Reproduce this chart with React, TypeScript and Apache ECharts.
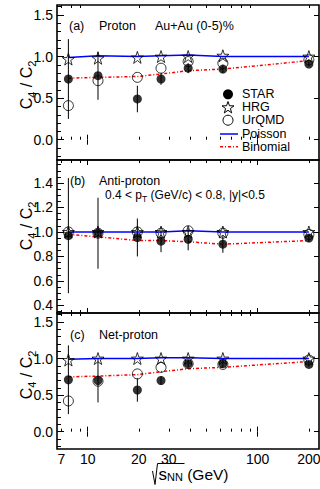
import React, { useEffect, useRef } from 'react';
import * as echarts from 'echarts';

// ---------------- data ----------------
const energies = [7.7, 11.5, 19.6, 27, 39, 62.4, 200];

// (a) Proton
const protonStar = [0.73, 0.77, 0.49, 0.73, 0.86, 0.85, 0.91];
const protonStarErr = [0.48, 0.29, 0.16, 0.07, 0.06, 0.05, 0.03];
const protonHRG = [0.97, 0.98, 0.99, 1.0, 1.0, 1.01, 1.0];
const protonUrQMD = [0.41, 0.71, 0.75, 0.86, 0.94, 0.92, 0.96];
const protonPoisson = [0.99, 1.01, 1.0, 1.01, 1.02, 1.0, 1.0];
const protonBinomial = [0.74, 0.75, 0.76, 0.79, 0.83, 0.85, 0.95];

// (b) Anti-proton
const antiStar = [0.97, 0.99, 0.955, 0.925, 0.94, 0.9, 0.95];
const antiStarErr = [0.47, 0.29, 0.155, 0.09, 0.09, 0.07, 0.03];
const antiHRG = [1.0, 1.0, 1.0, 1.0, 1.0, 1.0, 1.0];
const antiUrQMD = [1.0, 0.99, 1.0, 0.99, 1.01, 0.99, 0.98];
const antiPoisson = [1.0, 1.0, 1.0, 1.0, 1.01, 1.0, 1.0];
const antiBinomial = [0.98, 0.96, 0.93, 0.93, 0.92, 0.9, 0.93];

// (c) Net-proton
const netStar = [0.71, 0.7, 0.57, 0.7, 0.93, 0.93, 0.92];
const netStarErr = [0.47, 0.3, 0.16, 0.06, 0.05, 0.05, 0.03];
const netHRG = [0.98, 1.0, 1.0, 1.0, 1.0, 1.0, 1.0];
const netUrQMD = [0.42, 0.69, 0.79, 0.88, 0.93, 0.92, 0.98];
const netPoisson = [0.99, 1.0, 1.0, 1.01, 1.01, 1.0, 1.0];
const netBinomial = [0.75, 0.76, 0.78, 0.82, 0.86, 0.88, 0.96];

// axes
const xRange = [6.6, 229.4];
const xLabelValues = [7, 10, 20, 30, 100, 200];
const xMajorTicks = [10, 100];
const xMinorTicks = [7, 8, 9, 20, 30, 40, 50, 60, 70, 80, 90, 200];

const yRangeA = [-0.244, 1.62];
const yRangeB = [0.338, 1.588];
const yRangeC = [-0.237, 1.623];
const yLabelsAC = [0, 0.5, 1.0, 1.5];
const yMinorAC = [-0.2, -0.1, 0.1, 0.2, 0.3, 0.4, 0.6, 0.7, 0.8, 0.9, 1.1, 1.2, 1.3, 1.4, 1.6];
const yLabelsB = [0.4, 0.6, 0.8, 1.0, 1.2, 1.4];
const yMinorB = [0.35, 0.45, 0.5, 0.55, 0.65, 0.7, 0.75, 0.85, 0.9, 0.95, 1.05, 1.1, 1.15, 1.25, 1.3, 1.35, 1.45, 1.5, 1.55];

const legendNames = ['STAR', 'HRG', 'UrQMD', 'Poisson', 'Binomial'];

// ---------------- style/layout ----------------
const FONT = 'Liberation Sans, Arial, Helvetica, sans-serif';
const L = (v: number) => Math.log10(v);

const starPoints = (cx: number, cy: number, R: number, r: number) =>
  Array.from({ length: 10 }, (_, k) => {
    const rr = k % 2 === 0 ? R : r;
    const a = -Math.PI / 2 + (k * Math.PI) / 5;
    return [cx + rr * Math.cos(a), cy + rr * Math.sin(a)];
  });

const starPath =
  'path://' +
  starPoints(50, 50, 50, 19.5)
    .map((pt, k) => `${k === 0 ? 'M' : 'L'}${pt[0].toFixed(2)} ${pt[1].toFixed(2)}`)
    .join(' ') +
  ' Z';

const layout = [
  { top: 5, height: 155 },
  { top: 160, height: 153 },
  { top: 313, height: 136 },
];

const panels = [
  { star: protonStar, err: protonStarErr, hrg: protonHRG, urqmd: protonUrQMD, poisson: protonPoisson, binomial: protonBinomial, yRange: yRangeA, yLabels: yLabelsAC, yMinor: yMinorAC },
  { star: antiStar, err: antiStarErr, hrg: antiHRG, urqmd: antiUrQMD, poisson: antiPoisson, binomial: antiBinomial, yRange: yRangeB, yLabels: yLabelsB, yMinor: yMinorB },
  { star: netStar, err: netStarErr, hrg: netHRG, urqmd: netUrQMD, poisson: netPoisson, binomial: netBinomial, yRange: yRangeC, yLabels: yLabelsAC, yMinor: yMinorAC },
];

const BLUE = '#0000ff';
const RED = '#ff0000';
const RED_DASH = [3, 2, 1, 2];

function buildOption() {
  const grid: any[] = [];
  const xAxis: any[] = [];
  const yAxis: any[] = [];
  const series: any[] = [];
  const xMin = L(xRange[0]);
  const xMax = L(xRange[1]);

  panels.forEach((p, i) => {
    grid.push({
      left: 57,
      width: 262,
      top: layout[i].top,
      height: layout[i].height,
      show: true,
      borderColor: '#000',
      borderWidth: 1.6,
      backgroundColor: 'transparent',
      outerBoundsMode: 'none',
    });
    const xBase = (position: string, len: number, ticks: number[], withLabels: boolean) => ({
      type: 'value',
      gridIndex: i,
      position,
      min: xMin,
      max: xMax,
      axisLine: { show: false },
      splitLine: { show: false },
      axisTick: { show: true, inside: true, length: len, customValues: ticks.map(L), lineStyle: { color: '#000', width: 1 } },
      axisLabel: withLabels
        ? {
            show: true,
            customValues: xLabelValues.map(L),
            formatter: (v: number) => String(Math.round(Math.pow(10, v))),
            color: '#000',
            fontSize: 14,
            lineHeight: 14,
            fontFamily: FONT,
            margin: 3,
          }
        : { show: false },
    });
    xAxis.push(xBase('bottom', 5, xMajorTicks, i === 2));
    xAxis.push(xBase('bottom', 3, xMinorTicks, false));
    xAxis.push(xBase('top', 5, xMajorTicks, false));
    xAxis.push(xBase('top', 3, xMinorTicks, false));

    const yBase = (position: string, len: number, ticks: number[], withLabels: boolean) => ({
      type: 'value',
      gridIndex: i,
      position,
      min: p.yRange[0],
      max: p.yRange[1],
      axisLine: { show: false },
      splitLine: { show: false },
      axisTick: { show: true, inside: true, length: len, customValues: ticks, lineStyle: { color: '#000', width: 1 } },
      axisLabel: withLabels
        ? {
            show: true,
            customValues: p.yLabels,
            formatter: (v: number) => v.toFixed(1),
            color: '#000',
            fontSize: 14,
            fontFamily: FONT,
            margin: 4,
          }
        : { show: false },
    });
    yAxis.push(yBase('left', 7, p.yLabels, true));
    yAxis.push(yBase('left', 4, p.yMinor, false));
    yAxis.push(yBase('right', 5, p.yLabels, false));

    const xi = 4 * i;
    const yi = 3 * i;
    const pts = (arr: number[]) => energies.map((e, k) => [L(e), arr[k]]);

    series.push({
      name: 'Poisson',
      type: 'line',
      xAxisIndex: xi,
      yAxisIndex: yi,
      data: pts(p.poisson),
      symbol: 'none',
      lineStyle: { color: BLUE, width: 1.5 },
      itemStyle: { color: BLUE },
      z: 2,
    });
    series.push({
      name: 'Binomial',
      type: 'line',
      xAxisIndex: xi,
      yAxisIndex: yi,
      data: pts(p.binomial),
      symbol: 'none',
      lineStyle: { color: RED, width: 1.5, type: RED_DASH },
      itemStyle: { color: RED },
      z: 2,
    });
    series.push({
      name: 'errors',
      type: 'custom',
      xAxisIndex: xi,
      yAxisIndex: yi,
      data: energies.map((e, k) => [L(e), p.star[k] - p.err[k], p.star[k] + p.err[k]]),
      encode: { x: 0, y: [1, 2] },
      renderItem: (params: any, api: any) => {
        const a = api.coord([api.value(0), api.value(1)]);
        const b = api.coord([api.value(0), api.value(2)]);
        return {
          type: 'line',
          shape: { x1: a[0], y1: a[1], x2: b[0], y2: b[1] },
          style: { stroke: '#000', lineWidth: 1 },
        };
      },
      z: 3,
    });
    series.push({
      name: 'HRG',
      type: 'scatter',
      xAxisIndex: xi,
      yAxisIndex: yi,
      data: pts(p.hrg),
      symbol: starPath,
      symbolSize: 12,
      itemStyle: { color: 'rgba(255,255,255,0)', borderColor: '#000', borderWidth: 1 },
      z: 4,
    });
    series.push({
      name: 'UrQMD',
      type: 'scatter',
      xAxisIndex: xi,
      yAxisIndex: yi,
      data: pts(p.urqmd),
      symbol: 'circle',
      symbolSize: 10,
      itemStyle: { color: 'rgba(255,255,255,0)', borderColor: '#000', borderWidth: 1 },
      z: 4,
    });
    series.push({
      name: 'STAR',
      type: 'scatter',
      xAxisIndex: xi,
      yAxisIndex: yi,
      data: pts(p.star),
      symbol: 'circle',
      symbolSize: 9,
      itemStyle: { color: '#000' },
      z: 5,
    });
  });

  const txt = (text: string, x: number, y: number, size = 12.5, extra: any = {}) => ({
    type: 'text',
    x,
    y,
    style: { text, fill: '#000', fontSize: size, fontFamily: FONT, verticalAlign: 'middle', ...extra },
    z: 10,
  });

  const yTitle = (y: number) => ({
    type: 'text',
    x: 26,
    y,
    rotation: Math.PI / 2,
    style: {
      text: '{m|C}{s|4}{m| / C}{s|2}',
      align: 'center',
      verticalAlign: 'middle',
      fill: '#000',
      rich: {
        m: { fontSize: 16, fontFamily: FONT, lineHeight: 22, fill: '#000' },
        s: { fontSize: 11, fontFamily: FONT, lineHeight: 11, verticalAlign: 'bottom', fill: '#000' },
      },
    },
    z: 10,
  });

  // legend (drawn manually inside panel (a))
  const legX = 228;
  const legRows = [94.3, 107.3, 120.2, 134.0, 146.7];
  const legend: any[] = [
    { type: 'circle', shape: { cx: legX, cy: legRows[0], r: 5 }, style: { fill: '#000' }, z: 10 },
    { type: 'polygon', shape: { points: starPoints(legX, legRows[1] + 0.5, 6.3, 2.5) }, style: { fill: 'none', stroke: '#000', lineWidth: 1 }, z: 10 },
    { type: 'circle', shape: { cx: legX, cy: legRows[2], r: 5 }, style: { fill: 'none', stroke: '#000', lineWidth: 1 }, z: 10 },
    { type: 'line', shape: { x1: 220, y1: legRows[3], x2: 238, y2: legRows[3] }, style: { stroke: BLUE, lineWidth: 1.5 }, z: 10 },
    { type: 'line', shape: { x1: 220, y1: legRows[4], x2: 238, y2: legRows[4] }, style: { stroke: RED, lineWidth: 1.5, lineDash: RED_DASH }, z: 10 },
    ...legendNames.map((n, k) => txt(n, 242, legRows[k], 12.5)),
  ];

  const graphic: any[] = [
    txt('(a)', 69, 26),
    txt('Proton', 99, 26),
    txt('Au+Au (0-5)%', 155, 26),
    txt('(b)', 70, 181),
    txt('Anti-proton', 99, 181),
    {
      type: 'text',
      x: 105,
      y: 195,
      style: {
        text: '{m|0.4 < p}{s|T}{m| (GeV/c) < 0.8, |y|<0.5}',
        verticalAlign: 'middle',
        fill: '#000',
        rich: {
          m: { fontSize: 12, fontFamily: FONT, lineHeight: 16, fill: '#000' },
          s: { fontSize: 8.5, fontFamily: FONT, lineHeight: 9, verticalAlign: 'bottom', fill: '#000' },
        },
      },
      z: 10,
    },
    txt('(c)', 70, 334.5),
    txt('Net-proton', 99, 334.5),
    yTitle(85),
    yTitle(226),
    yTitle(375),
    {
      type: 'polyline',
      shape: { points: [[152.5, 471], [155, 484.5], [157.5, 463.5], [184.5, 463.5]] },
      style: { stroke: '#000', lineWidth: 1, fill: 'none' },
      z: 10,
    },
    {
      type: 'text',
      x: 158.5,
      y: 474.5,
      style: {
        text: '{s|s}{n|NN}{g| (GeV)}',
        verticalAlign: 'middle',
        fill: '#000',
        rich: {
          s: { fontSize: 17, fontFamily: FONT, lineHeight: 15, fill: '#000' },
          n: { fontSize: 11, fontFamily: FONT, lineHeight: 8, verticalAlign: 'bottom', fill: '#000' },
          g: { fontSize: 15.5, fontFamily: FONT, lineHeight: 15, fill: '#000' },
        },
      },
      z: 10,
    },
    ...legend,
  ];

  return {
    animation: false,
    backgroundColor: '#fff',
    grid,
    xAxis,
    yAxis,
    series,
    graphic,
  };
}

export default function App() {
  const ref = useRef<HTMLDivElement>(null);
  useEffect(() => {
    if (!ref.current) return;
    const chart = echarts.init(ref.current, undefined, { renderer: 'svg' });
    chart.setOption(buildOption() as any);
    return () => chart.dispose();
  }, []);
  return <div ref={ref} style={{ position: 'fixed', left: 0, top: 0, width: 320, height: 489 }} />;
}
